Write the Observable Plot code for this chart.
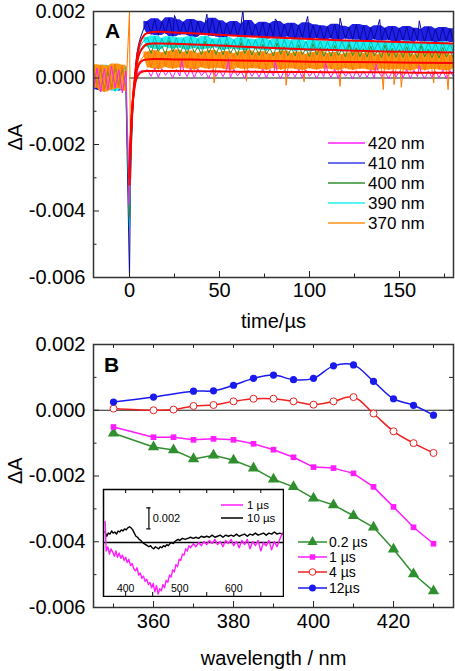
<!DOCTYPE html>
<html><head><meta charset="utf-8">
<script src="https://cdn.jsdelivr.net/npm/d3@7"></script>
<script src="https://cdn.jsdelivr.net/npm/@observablehq/plot@0.6"></script>
<style>
body{margin:0;background:#fff;}
#wrap{position:relative;width:455px;}
#wrap svg{display:block;}
#b{position:relative;}
#inset{position:absolute;left:102px;top:156px;}
</style></head><body>
<div id="wrap"><div id="a"></div><div id="b"><div id="inset"></div></div></div>
<script>
// ---------- Panel A data (ΔA in units of 1e-5) ----------
const timeA = [-20,-18,-16,-14,-12,-10,-8,-6,-4,-2,
  0,0.5,1,1.5,2,3,4,5,6,7,8,
  10,12,14,16,18,20,22,24,26,28,
  30,32,34,36,38,40,42,44,46,48,
  50,52,54,56,58,60,62,64,66,68,
  70,72,74,76,78,80,82,84,86,88,
  90,92,94,96,98,100,102,104,106,108,
  110,112,114,116,118,120,122,124,126,128,
  130,132,134,136,138,140,142,144,146,148,
  150,152,154,156,158,160,162,164,166,168,
  170,172,174,176,178,180];
const trace410 = [30,-35,25,-40,35,-30,20,-38,28,-32,
  -600,-330,-220,-140,-80,10,70,100,120,135,150,
  170,131,178,128,169,134,181,124,175,130,
  168,129,176,122,171,131,165,127,180,125,
  172,120,164,128,170,125,162,121,173,126,
  160,124,168,117,163,122,170,118,161,125,
  165,115,158,121,166,116,160,120,157,114,
  154,119,162,113,156,118,152,115,161,112,
  158,110,151,116,157,111,150,114,155,109,
  149,113,155,107,150,112,146,108,154,110,
  147,106,152,110,148,107];
const spikes410 = [[25,188],[43,192],[63,205],[81,178],[99,185],[117,180],[139,176],[161,172]];
const trace390 = [-30,35,-25,38,-35,28,-40,32,-28,35,
  -450,-300,-200,-130,-75,5,55,80,95,105,112,
  122,90,126,86,119,93,124,88,121,91,
  120,85,124,90,118,86,125,89,117,92,
  118,84,122,88,115,86,121,83,117,89,
  115,86,119,82,113,87,118,83,116,85,
  112,81,117,85,110,80,115,84,111,82,
  110,84,115,79,112,83,109,80,114,81,
  109,78,113,82,107,79,111,77,108,81,
  106,80,111,76,107,79,104,77,109,78,
  105,76,109,79,104,77];
const trace400 = [35,-28,30,-38,25,-32,38,-25,30,-35,
  -420,-280,-190,-120,-70,0,45,65,78,85,92,
  100,74,108,80,96,70,112,78,102,73,
  98,72,106,76,94,70,110,75,99,71,
  96,70,104,74,92,68,107,73,97,69,
  94,68,102,72,90,66,105,71,95,67,
  92,66,100,70,88,64,103,69,93,65,
  90,65,98,68,86,63,101,67,91,64,
  88,63,96,66,84,61,99,65,89,62,
  86,62,94,64,82,60,97,63,87,61,
  85,60,92,63,81,60];
const trace370 = [40,-30,38,-42,35,-35,42,-30,38,-40,
  200,-250,-170,-100,-55,0,30,45,52,60,66,
  78,30,82,26,75,33,80,28,84,31,
  77,29,81,25,74,32,79,27,83,30,
  76,28,80,24,73,31,78,26,82,29,
  75,27,79,24,72,30,77,25,81,28,
  74,27,78,23,71,29,76,25,80,28,
  74,26,77,23,71,29,75,24,79,27,
  73,26,77,22,70,28,75,24,78,26,
  72,25,76,22,69,28,74,23,78,26,
  72,25,75,22,69,27];
const spikes370 = [[47,-15],[65,-10],[87,-22],[97,-12],[117,-25],[141,-35],[147,-20],[151,-28],[169,-15],[177,-35]];
const trace420 = [-38,30,-42,28,-35,36,-30,25,-45,20,
  -380,-250,-160,-100,-60,-10,10,18,20,22,21,
  25,5,30,2,28,8,22,0,26,6,
  24,4,29,1,27,7,21,-1,25,5,
  23,4,28,1,26,6,20,-1,24,5,
  22,3,27,0,25,6,19,-2,23,4,
  22,3,26,0,24,5,19,-2,23,4,
  21,2,26,-1,24,5,18,-3,22,3,
  21,2,25,-1,23,4,18,-3,22,3,
  20,1,25,-2,23,4,17,-3,21,2,
  20,1,24,-2,22,3];
const spikes420 = [[29,55],[55,60],[81,50],[109,45],[137,42],[161,38]];
// fitted curves (red), ΔA in 1e-5
const fitTimes = [0,0.5,1,1.5,2,3,4,5,6,8,10,13,17,25,40,60,80,100,120,140,160,180];
const fit410 = [-320,-220,-150,-95,-55,5,55,88,108,128,135,138,139,137,133,127,122,117,113,110,107,104];
const fit390 = [-300,-210,-145,-95,-60,-5,40,65,80,96,102,104,104,103,100,95,90,86,83,80,78,77];
const fit370 = [-280,-200,-135,-90,-58,-12,20,38,47,54,56,57,57,56,55,53,51,49,48,47,46,45];
const fit420 = [-300,-210,-145,-98,-65,-22,0,10,16,20,21,21,21,21,20,19,18,18,17,17,16,16];
const legendA = ["420 nm","410 nm","400 nm","390 nm","370 nm"];
const xTicksA = [0,50,100,150];
const xMinorA = [25,75,125,175];

// ---------- Panel B data ----------
const wavelengths = [350,360,365,370,375,380,385,390,395,400,405,410,415,420,425,430];
const spec02us = [-0.00070,-0.00112,-0.00121,-0.00148,-0.00137,-0.00152,-0.00176,-0.00210,-0.00233,-0.00268,-0.00288,-0.00321,-0.00356,-0.00423,-0.00498,-0.00550];
const spec1us  = [-0.00051,-0.00082,-0.00082,-0.00090,-0.00087,-0.00090,-0.00102,-0.00120,-0.00143,-0.00173,-0.00176,-0.00192,-0.00233,-0.00294,-0.00356,-0.00406];
const spec4us  = [0.00005,0.00000,0.00002,0.00013,0.00016,0.00027,0.00035,0.00035,0.00027,0.00017,0.00027,0.00040,-0.00010,-0.00064,-0.00100,-0.00130];
const spec12us = [0.00025,0.00040,null,0.00058,0.00059,0.00076,0.00097,0.00107,0.00093,0.00097,0.00135,0.00138,0.00088,0.00035,0.00015,-0.00015];
const legendB = ["0.2 µs","1 µs","4 µs","12µs"];
const xTicksB = [360,380,400,420];
const xMinorB = [350,370,390,410,430];
const yTicks = [-0.006,-0.004,-0.002,0,0.002];
const yMinor = [-0.005,-0.003,-0.001,0.001];

// ---------- Inset data (ΔA in 1e-4) ----------
const inset1us = [[362,20],[364,-8],[367,-4],[370,-11],[373,-6],[376,-9],[379,-13],[382,-8],[385,-14],[388,-10],[391,-15],[394,-12],[397,-17],[400,-14],[403,-19],[406,-16],[409,-22],[412,-20],[415,-25],[418,-27],[421,-24],[424,-31],[427,-29],[430,-34],[433,-32],[436,-37],[439,-35],[442,-40],[445,-38],[448,-43],[451,-39],[454,-47],[457,-41],[460,-49],[463,-44],[466,-46],[469,-40],[472,-43],[475,-36],[478,-38],[481,-31],[484,-33],[487,-26],[490,-28],[493,-21],[496,-23],[499,-16],[502,-17],[505,-11],[508,-12],[511,-6],[514,-8],[517,-3],[520,-5],[525,-1],[530,-4],[535,0],[540,-3],[545,1],[550,-2],[555,2],[560,-1],[565,3],[570,-2],[575,1],[580,-4],[585,2],[590,-1],[595,3],[600,-3],[605,1],[610,-5],[615,2],[620,-2],[625,3],[630,-6],[635,1],[640,-3],[645,2],[650,-8],[655,0],[660,-3],[665,2],[670,-7],[675,1],[680,-4],[685,3],[690,9]];
const inset10us = [[362,10],[365,6],[368,9],[371,8],[374,11],[377,9],[380,10],[383,8],[386,11],[389,10],[392,12],[395,11],[398,13],[401,12],[404,14],[407,15],[410,14],[413,12],[416,9],[419,6],[422,5],[425,3],[428,2],[431,0],[434,-1],[437,-2],[440,-3],[443,-4],[446,-3],[449,-5],[452,-6],[455,-4],[458,-5],[461,-6],[464,-4],[467,-5],[470,-3],[473,-4],[476,-2],[479,-3],[482,-1],[485,0],[488,-1],[491,1],[494,2],[497,3],[500,2],[505,4],[510,3],[515,4],[520,5],[525,4],[530,5],[535,4],[540,6],[545,5],[550,6],[555,5],[560,7],[565,5],[570,6],[575,7],[580,5],[585,7],[590,6],[595,7],[600,6],[605,8],[610,6],[615,7],[620,8],[625,6],[630,8],[635,7],[640,9],[645,7],[650,8],[655,9],[660,7],[665,9],[670,8],[675,10],[680,8],[685,9],[690,8]];
const insetTicks = [400,450,500,550,600,650];
const insetLabels = [400,500,600];
const insetLegend = ["1 µs","10 µs"];

// ---------- styling ----------
const FONT = "'Liberation Sans', Arial, Helvetica, sans-serif";
const C = {m:"#ff1cff", b:"#2020e6", bl:"#08089a", g:"#2f8f2f", c:"#22f0f0", cl:"#00bdbd", o:"#ff9414", ol:"#ff7800", red:"#ff0000"};
const fmt = d => (Math.abs(d) < 1e-12 ? 0 : d).toFixed(3);

function rowsA(vals){ return timeA.map((t,i)=>({t, v: vals[i]*1e-5})).filter(d=>Number.isFinite(d.v)); }
function rowsLine(vals, spikes){ return rowsA(vals).concat((spikes||[]).map(([t,v])=>({t, v: v*1e-5}))).sort((a,b)=>a.t-b.t); }
function rowsFit(vals){ return fitTimes.map((t,i)=>({t, v: vals[i]*1e-5})); }
// noise band: area between the rolling min and rolling max of the measured trace
function band(vals, fill){
  const rows = rowsA(vals);
  const seg = [rows.filter(d => d.t <= -2), rows.filter(d => d.t >= 8)];
  return seg.map(s => Plot.areaY(s, Plot.map(
    {y1: Plot.window({k: 3, reduce: "min"}), y2: Plot.window({k: 3, reduce: "max"})},
    {x: "t", y1: "v", y2: "v", fill, clip: true})));
}

function frameTicks(W, H, xMaj, xMin, yMaj, yMin, mirror){
  const st = {stroke:"#222", strokeWidth:1};
  const m = [
    Plot.tickX(xMaj, {x:d=>d, insetTop:H-6, ...st}),
    Plot.tickX(xMin, {x:d=>d, insetTop:H-3.5, ...st}),
    Plot.tickY(yMaj, {y:d=>d, insetRight:W-6, ...st}),
    Plot.tickY(yMin, {y:d=>d, insetRight:W-3.5, ...st})
  ];
  if (mirror) {
    m.push(Plot.tickX(xMaj.concat(xMin), {x:d=>d, insetBottom:H-4, ...st}));
    m.push(Plot.tickY(yMaj.concat(yMin), {y:d=>d, insetLeft:W-4, ...st}));
  }
  return m;
}

// ---------- Panel A ----------
const WA = 455, HA = 332, mlA = 93, mrA = 2, mtA = 11, mbA = 55;
const innerWA = WA-mlA-mrA, innerHA = HA-mtA-mbA;
const lineOpt = {x:"t", y:"v", strokeWidth:1, clip:true};
const plotA = Plot.plot({
  width: WA, height: HA, marginLeft: mlA, marginRight: mrA, marginTop: mtA, marginBottom: mbA,
  x: {domain: [-20, 180]},
  y: {domain: [-0.006, 0.002]},
  style: {fontFamily: FONT, fontSize: "20px", background: "white", color: "black"},
  marks: [
    Plot.ruleY([0], {x1: 0, x2: 180, stroke: "#222", strokeWidth: 1.2}),
    ...band(trace410, C.b),
    Plot.line(rowsLine(trace410, spikes410), {...lineOpt, stroke: C.bl}),
    ...band(trace390, C.c),
    Plot.line(rowsLine(trace390), {...lineOpt, stroke: C.cl}),
    ...band(trace370, C.o),
    Plot.line(rowsLine(trace400), {...lineOpt, stroke: C.g}),
    Plot.line(rowsLine(trace370, spikes370), {...lineOpt, stroke: C.ol}),
    Plot.line(rowsLine(trace420, spikes420), {...lineOpt, stroke: C.m}),
    ...[fit410, fit390, fit370, fit420].map(f => Plot.line(rowsFit(f), {x:"t", y:"v", stroke: C.red, strokeWidth: 2, curve: "monotone-x", clip: true})),
    ...frameTicks(innerWA, innerHA, xTicksA, xMinorA, yTicks, yMinor, false),
    Plot.axisX({ticks: xTicksA, tickSize: 0, tickPadding: 5, label: null, tickFormat: d => d}),
    Plot.axisY({ticks: yTicks, tickSize: 0, tickPadding: 8, label: null, tickFormat: fmt}),
    Plot.frame({stroke: "#333", strokeWidth: 1.5}),
    Plot.text(["A"], {text: d=>d, frameAnchor: "top-left", dx: 19, dy: 20, fontWeight: "bold", fontSize: 21, textAnchor: "middle", lineAnchor: "middle"}),
    Plot.text(["ΔA"], {text: d=>d, frameAnchor: "left", dx: -78, dy: 6, rotate: -90, fontSize: 20, lineAnchor: "middle"}),
    Plot.text(["time/µs"], {text: d=>d, frameAnchor: "bottom", dy: 44, fontSize: 20, lineAnchor: "middle"})
  ]
});
document.getElementById("a").appendChild(plotA);
{
  const g = d3.select(plotA).append("g").attr("font-family", FONT).attr("font-size", 17).attr("text-anchor", "start");
  const cols = [C.m, "#3b3be8", C.g, C.c, C.o];
  legendA.forEach((lab, i) => {
    const y = 143 + i * 20;
    g.append("line").attr("x1", 328).attr("x2", 365).attr("y1", y).attr("y2", y).attr("stroke", cols[i]).attr("stroke-width", 1.5);
    g.append("text").attr("x", 368).attr("y", y).attr("dy", "0.35em").attr("fill", "black").text(lab);
  });
}

// ---------- Panel B ----------
const WB = 455, HB = 339, mlB = 93, mrB = 2, mtB = 12, mbB = 64;
const innerWB = WB-mlB-mrB, innerHB = HB-mtB-mbB;
const rowsB = vals => wavelengths.map((w,i)=>({w, v: vals[i]})).filter(d => d.v !== null && d.v !== undefined);
const plotB = Plot.plot({
  width: WB, height: HB, marginLeft: mlB, marginRight: mrB, marginTop: mtB, marginBottom: mbB,
  x: {domain: [345, 435]},
  y: {domain: [-0.006, 0.002]},
  style: {fontFamily: FONT, fontSize: "20px", background: "white", color: "black"},
  marks: [
    Plot.ruleY([0], {stroke: "#222", strokeWidth: 1.2}),
    Plot.line(rowsB(spec02us), {x:"w", y:"v", stroke: C.g, strokeWidth: 1.5}),
    Plot.dot(rowsB(spec02us), {x:"w", y:"v", fill: C.g, symbol: "triangle", r: 4.2}),
    Plot.line(rowsB(spec1us), {x:"w", y:"v", stroke: C.m, strokeWidth: 1.5}),
    Plot.dot(rowsB(spec1us), {x:"w", y:"v", fill: C.m, symbol: "square", r: 3.2}),
    Plot.line(rowsB(spec4us), {x:"w", y:"v", stroke: "#ee2020", strokeWidth: 1.5, curve: "catmull-rom"}),
    Plot.dot(rowsB(spec4us), {x:"w", y:"v", fill: "white", stroke: "#ee2020", strokeWidth: 1, r: 3.5}),
    Plot.line(rowsB(spec12us), {x:"w", y:"v", stroke: "#1a1aee", strokeWidth: 1.5, curve: "catmull-rom"}),
    Plot.dot(rowsB(spec12us), {x:"w", y:"v", fill: "#1a1aee", r: 3.6}),
    ...frameTicks(innerWB, innerHB, xTicksB, xMinorB, yTicks, yMinor, true),
    Plot.axisX({ticks: xTicksB, tickSize: 0, tickPadding: 6, label: null, tickFormat: d => d}),
    Plot.axisY({ticks: yTicks, tickSize: 0, tickPadding: 8, label: null, tickFormat: fmt}),
    Plot.frame({stroke: "#333", strokeWidth: 1.5}),
    Plot.text(["B"], {text: d=>d, frameAnchor: "top-left", dx: 18, dy: 20.5, fontWeight: "bold", fontSize: 21, textAnchor: "middle", lineAnchor: "middle"}),
    Plot.text(["ΔA"], {text: d=>d, frameAnchor: "left", dx: -78, dy: 8, rotate: -90, fontSize: 20, lineAnchor: "middle"}),
    Plot.text(["wavelength / nm"], {text: d=>d, frameAnchor: "bottom", dy: 51, fontSize: 20, lineAnchor: "middle"})
  ]
});
document.getElementById("b").insertBefore(plotB, document.getElementById("inset"));
{
  const g = d3.select(plotB).append("g").attr("font-family", FONT).attr("font-size", 14).attr("text-anchor", "start");
  const cols = [C.g, C.m, "#ee2020", "#1a1aee"];
  const ys = [210, 225, 240, 256];
  legendB.forEach((lab, i) => {
    const y = ys[i];
    g.append("line").attr("x1", 298).attr("x2", 327).attr("y1", y).attr("y2", y).attr("stroke", cols[i]).attr("stroke-width", 1.5);
    if (i === 0) g.append("path").attr("d", d3.symbol(d3.symbolTriangle, 45)()).attr("transform", `translate(312.5,${y})`).attr("fill", cols[i]);
    if (i === 1) g.append("path").attr("d", d3.symbol(d3.symbolSquare, 30)()).attr("transform", `translate(312.5,${y})`).attr("fill", cols[i]);
    if (i === 2) g.append("circle").attr("cx", 312.5).attr("cy", y).attr("r", 3.3).attr("fill", "white").attr("stroke", cols[i]);
    if (i === 3) g.append("circle").attr("cx", 312.5).attr("cy", y).attr("r", 3.5).attr("fill", cols[i]);
    g.append("text").attr("x", 329).attr("y", y).attr("dy", "0.35em").attr("fill", "black").text(lab);
  });
}

// ---------- Inset ----------
const inW = 182, inH = 109;
const plotIn = Plot.plot({
  width: inW, height: inH, margin: 1,
  x: {domain: [359, 692], axis: null},
  y: {domain: [-0.00514, 0.00505], axis: null},
  style: {fontFamily: FONT, fontSize: "11px", background: "white", color: "black"},
  marks: [
    Plot.ruleY([0], {stroke: "black", strokeWidth: 1.5}),
    Plot.line(inset10us, {x: d=>d[0], y: d=>d[1]*1e-4, stroke: "black", strokeWidth: 1.4}),
    Plot.line(inset1us, {x: d=>d[0], y: d=>d[1]*1e-4, stroke: C.m, strokeWidth: 1.4}),
    Plot.ruleX([443], {y1: 0.0013, y2: 0.0033, stroke: "black", strokeWidth: 1.2}),
    Plot.ruleY([0.0013, 0.0033], {x1: 439, x2: 447, stroke: "black", strokeWidth: 1.2}),
    Plot.text(["0.002"], {text: d=>d, x: 450, y: 0.0023, textAnchor: "start", fontSize: 11}),
    Plot.tickX(insetTicks, {x: d=>d, insetTop: inH-2-4, stroke: "black"}),
    Plot.tickX(insetTicks, {x: d=>d, insetBottom: inH-2-4, stroke: "black"}),
    Plot.text(insetLabels, {x: d=>d, text: d=>String(d), frameAnchor: "bottom", dy: -8, fontSize: 10.5, lineAnchor: "middle"}),
    Plot.frame({stroke: "black", strokeWidth: 1.5})
  ]
});
document.getElementById("inset").appendChild(plotIn);
{
  const g = d3.select(plotIn).append("g").attr("font-family", FONT).attr("font-size", 11.5).attr("text-anchor", "start");
  const cols = [C.m, "black"];
  insetLegend.forEach((lab, i) => {
    const y = 17 + i * 13;
    g.append("line").attr("x1", 119).attr("x2", 141).attr("y1", y).attr("y2", y).attr("stroke", cols[i]).attr("stroke-width", 1.5);
    g.append("text").attr("x", 145).attr("y", y).attr("dy", "0.35em").attr("fill", "black").text(lab);
  });
}
</script>
</body></html>
